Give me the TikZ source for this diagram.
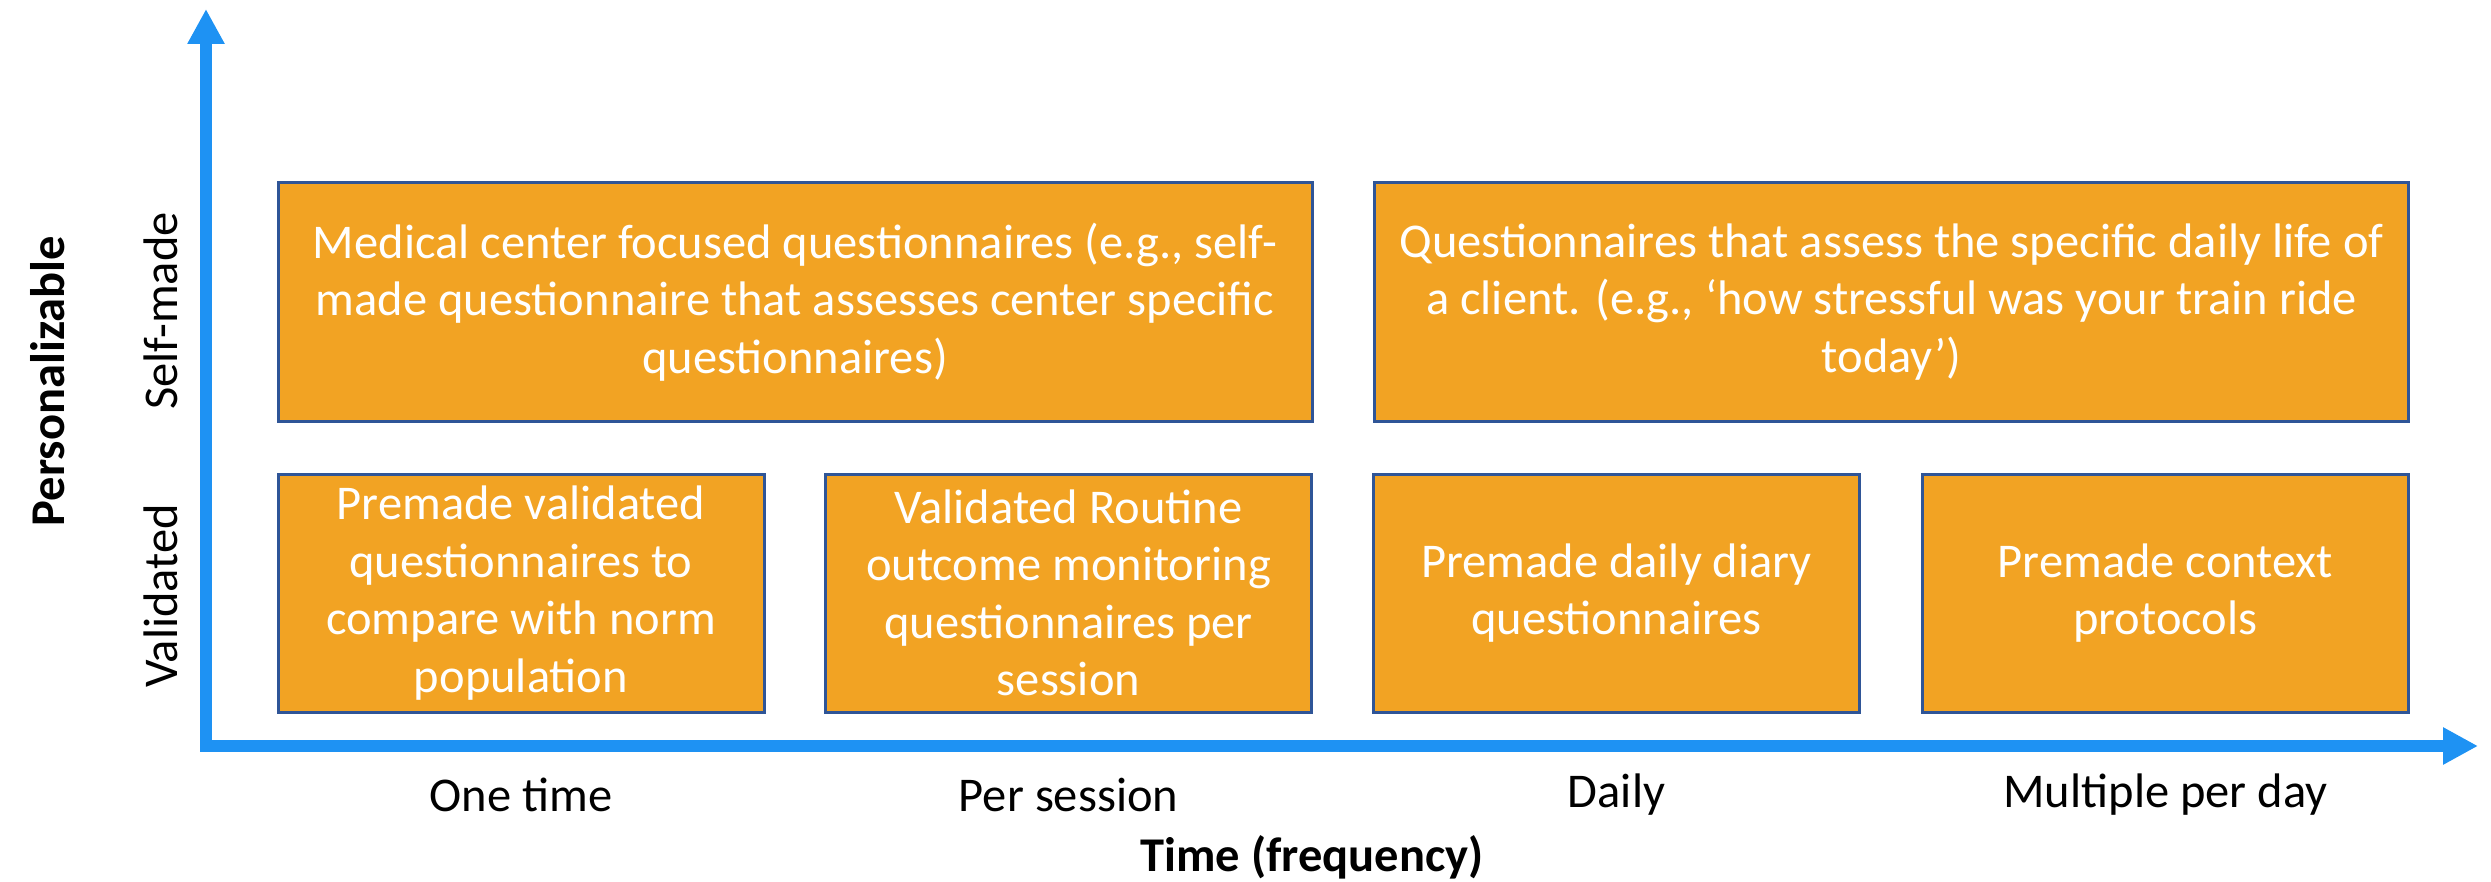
\documentclass[tikz,border=0pt]{standalone}
\usepackage{fontspec}
\setmainfont{Carlito}
\usetikzlibrary{arrows.meta}

\definecolor{axisblue}{RGB}{30,146,243}
\definecolor{boxfill}{RGB}{242,163,35}
\definecolor{boxline}{RGB}{47,85,151}

\begin{document}
\begin{tikzpicture}[x=1pt,y=-1pt,
  every node/.style={font=\fontsize{48.5}{57.5}\selectfont},
  cell/.style={draw=boxline, line width=3pt, fill=boxfill, text=white,
    align=center, inner sep=0pt, minimum height=238pt},
  smallcell/.style={cell, minimum width=486pt},
  widecell/.style={cell, minimum width=1034pt},
  axislabel/.style={text=black, inner sep=0pt},
  axisline/.style={draw=axisblue, line width=12pt, line join=miter,
    {Triangle[length=35pt,width=35pt]}-{Triangle[length=35pt,width=35pt]}}]

\useasboundingbox (0,0) rectangle (2491,882);

% axes
\coordinate (origin) at (206,746);
\coordinate (ytip) at (206,9);
\coordinate (xtip) at (2478,746);
\draw[axisline] (ytip) -- (origin) -- (xtip);

% self-made row
\node[widecell] (selfA) at (795,302) {Medical center focused questionnaires (e.g., self-\\made questionnaire that assesses center specific\\questionnaires)};
\node[widecell] (selfB) at (1891.5,302) {Questionnaires that assess the specific daily life of\\a client. (e.g., ‘how stressful was your train ride\\today’)};

% validated row
\node[smallcell] (val1) at (521,593) {Premade validated\\questionnaires to\\compare with norm\\population};
\node[smallcell] (val2) at (1068.5,593) {Validated Routine\\outcome monitoring\\questionnaires per\\session};
\node[smallcell] (val3) at (1616.5,593) {Premade daily diary\\questionnaires};
\node[smallcell] (val4) at (2165.5,593) {Premade context\\protocols};

% y-axis labels
\node[axislabel, rotate=90, font=\fontsize{48.5}{57.5}\selectfont\bfseries] (ytitle) at (48,381) {Personalizable};
\node[axislabel, rotate=90] (yself) at (161,311) {Self-made};
\node[axislabel, rotate=90] (yval) at (161,596) {Validated};

% x-axis labels
\node[axislabel] (xone) at (521,795) {One time};
\node[axislabel] (xsess) at (1068.5,795) {Per session};
\node[axislabel] (xdaily) at (1616.5,795) {Daily};
\node[axislabel] (xmult) at (2165.5,795) {Multiple per day};
\node[axislabel, font=\fontsize{48.5}{57.5}\selectfont\bfseries] (xtitle) at (1312,857) {Time (frequency)};

\end{tikzpicture}
\end{document}
